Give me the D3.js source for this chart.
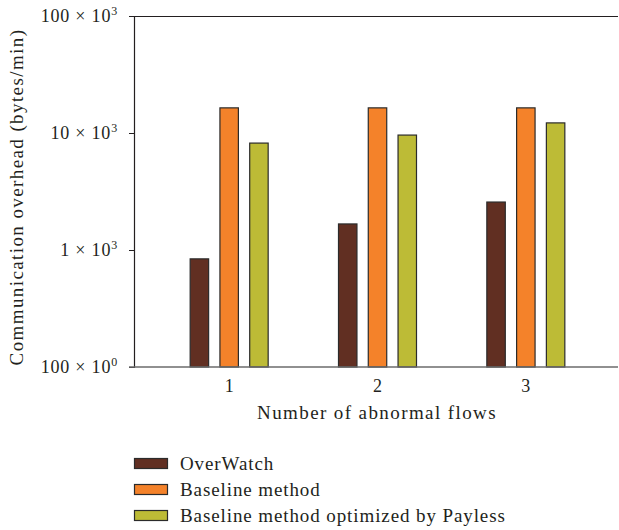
<!DOCTYPE html>
<html>
<head>
<meta charset="utf-8">
<script src="https://cdn.jsdelivr.net/npm/d3@7"></script>
<style>
  body { margin: 0; background: #fff; }
  svg text { font-family: "Liberation Serif", "DejaVu Serif", serif; fill: #231f20; }
</style>
</head>
<body>
<svg id="chart"></svg>
<script>
"use strict";

const flows = ["1", "2", "3"];
const seriesNames = ["OverWatch", "Baseline method", "Baseline method optimized by Payless"];
const overWatch = [840, 1670, 2570];
const baseline = [16400, 16400, 16400];
const payless = [8200, 9600, 12200];
const yTicks = [100, 1000, 10000, 100000];
const yTickMant = ["100", "1", "10", "100"];
const yTickExp = ["0", "3", "3", "3"];
const colors = ["#612f22", "#f4822a", "#bdbb36"];

const WIDTH = 619;
const HEIGHT = 530;
const margin = {left: 134, right: 3, top: 16, bottom: 163};

const svg = d3.select('#chart')
    .attr('width', WIDTH)
    .attr('height', HEIGHT);

const y = d3.scaleLog()
    .domain([100, 100000])
    .range([HEIGHT - margin.bottom, margin.top]);

const x = d3.scaleBand()
    .domain(flows)
    .range([margin.left + 21, WIDTH - 19]);

const xs = d3.scaleBand()
    .domain(d3.range(seriesNames.length))
    .range([x.bandwidth() / 2 - 39, x.bandwidth() / 2 + 39])
    .paddingInner(0.38);

const allSeries = [overWatch, baseline, payless];
const barData = [];
flows.forEach((f, i) => {
    allSeries.forEach((s, k) => barData.push({flow: f, k: k, value: s[i]}));
});

// bars
svg.append('g')
    .selectAll('rect')
    .data(barData)
    .join('rect')
    .attr('x', d => x(d.flow) + xs(d.k))
    .attr('y', d => y(d.value))
    .attr('width', xs.bandwidth())
    .attr('height', d => y(100) - y(d.value))
    .attr('fill', d => colors[d.k])
    .attr('stroke', '#2b2b2b')
    .attr('stroke-width', 1.2);

// top border
svg.append('line')
    .attr('x1', margin.left).attr('x2', WIDTH - 1)
    .attr('y1', y(100000) + 0.5).attr('y2', y(100000) + 0.5)
    .attr('stroke', '#231f20').attr('stroke-width', 1.2);

// y axis
const yAxis = svg.append('g')
    .attr('transform', `translate(${margin.left},0)`)
    .call(d3.axisLeft(y).tickValues(yTicks).tickSize(5).tickFormat(''));
yAxis.select('.domain').attr('stroke', '#231f20').attr('stroke-width', 1.2);
yAxis.selectAll('.tick line').attr('stroke', '#231f20');

const yLab = svg.append('g').selectAll('text')
    .data(yTicks)
    .join('text')
    .attr('x', 118)
    .attr('y', d => y(d) + 6)
    .attr('text-anchor', 'end')
    .style('font-size', '18px')
    .style('letter-spacing', '0.8px');
yLab.append('tspan').text((d, i) => yTickMant[i] + ' \u00d7 10');
yLab.append('tspan')
    .attr('dy', -7)
    .style('font-size', '12px')
    .text((d, i) => yTickExp[i]);

// x axis
const xAxis = svg.append('g')
    .attr('transform', `translate(0,${y(100)})`)
    .call(d3.axisBottom(x).tickSize(0).tickPadding(12));
xAxis.select('.domain').attr('d', `M${margin.left - 5},0H${WIDTH - 1}`)
    .attr('stroke', '#6b6b6b').attr('stroke-width', 1.6);
xAxis.selectAll('text')
    .style('font-size', '18px')
    .style('font-family', '"Liberation Serif", serif')
    .attr('fill', '#231f20');

// axis titles
svg.append('text')
    .attr('x', 377)
    .attr('y', 419)
    .attr('text-anchor', 'middle')
    .style('font-size', '19px')
    .style('letter-spacing', '1.4px')
    .text('Number of abnormal flows');

svg.append('text')
    .attr('transform', `translate(23,${197}) rotate(-90)`)
    .attr('text-anchor', 'middle')
    .style('font-size', '19px')
    .style('letter-spacing', '1.4px')
    .text('Communication overhead (bytes/min)');

// legend
const legend = svg.append('g')
    .selectAll('g')
    .data(seriesNames)
    .join('g')
    .attr('transform', (d, i) => `translate(134,${458 + i * 26})`);

legend.append('rect')
    .attr('x', 0.5).attr('y', 0.5)
    .attr('width', 33).attr('height', 10)
    .attr('fill', (d, i) => colors[i])
    .attr('stroke', '#2b2b2b')
    .attr('stroke-width', 1.2);

legend.append('text')
    .attr('x', 46)
    .attr('y', 12)
    .style('font-size', '19px')
    .style('letter-spacing', '0.9px')
    .text(d => d);
</script>
</body>
</html>
